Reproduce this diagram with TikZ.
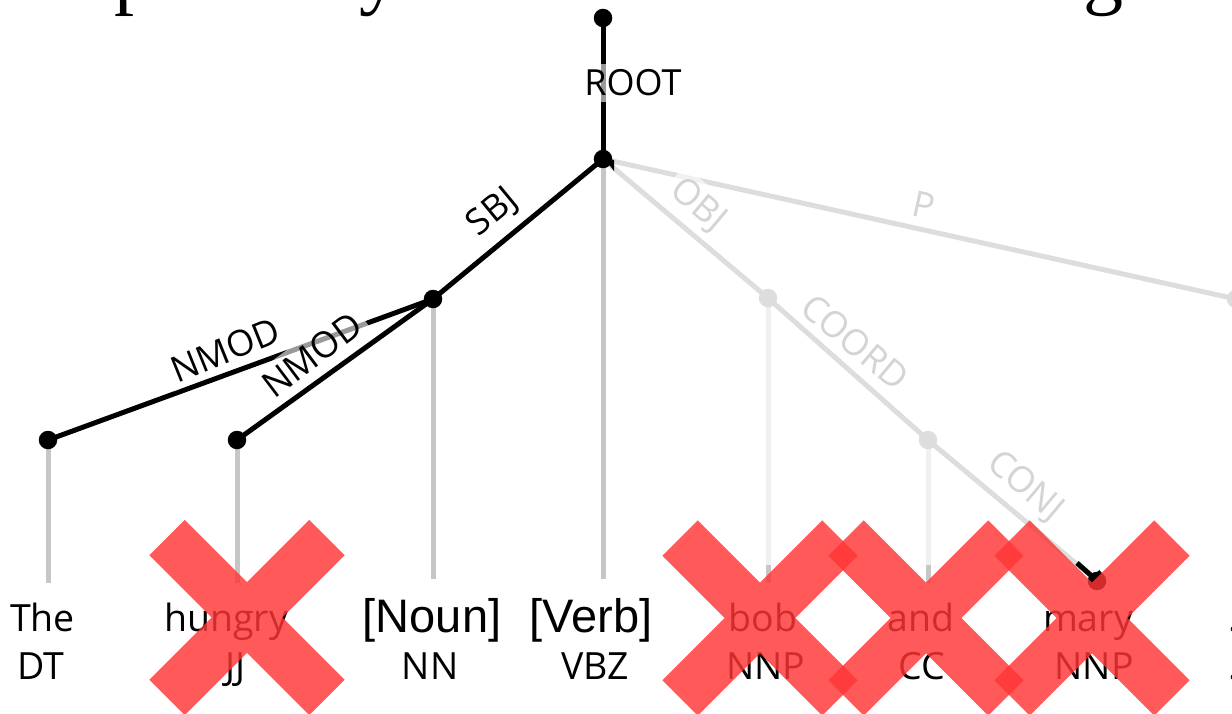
\documentclass[tikz,border=0pt]{standalone}
\usepackage{fontspec}
\newfontfamily\wordfont{Open Sans}
\newfontfamily\brfont{Liberation Sans}
\newfontfamily\bigserif{Liberation Serif}
\definecolor{vgray}{RGB}{198,198,198}
\definecolor{faint}{RGB}{240,240,240}
\definecolor{ledge}{RGB}{221,221,221}
\definecolor{llabel}{RGB}{212,212,212}
\definecolor{xred}{RGB}{255,53,53}
\tikzset{
 dot/.style={circle, fill=black, minimum size=18.5pt, inner sep=0pt},
 ldot/.style={dot, fill=ledge},
 bedge/.style={line width=5pt, black},
 lightedge/.style={line width=5pt, ledge},
 vline/.style={line width=5pt, vgray},
 fline/.style={line width=5pt, faint},
 lab/.style={font=\wordfont\fontsize{36}{36}\selectfont, fill=white, fill opacity=0.6, text opacity=1, inner sep=6pt},
 llab/.style={lab, text=llabel},
 word/.style={font=\wordfont\fontsize{37.5}{37.5}\selectfont, anchor=base, inner sep=0pt},
 bword/.style={font=\brfont\fontsize{47}{47}\selectfont, anchor=base, inner sep=0pt},
 topletter/.style={font=\bigserif\fontsize{80}{80}\selectfont, anchor=base west, inner sep=0pt},
 xcross/.pic={\fill[xred, fill opacity=0.82] (113,-25) -- (113,25) -- (25,25) -- (25,113) -- (-25,113) -- (-25,25) -- (-113,25) -- (-113,-25) -- (-25,-25) -- (-25,-113) -- (25,-113) -- (25,-25) -- cycle;}
}
\begin{document}
\begin{tikzpicture}[x=1pt,y=-1pt]
\useasboundingbox (0,0) rectangle (1232,714);
\fill[white] (0,0) rectangle (1232,714);
% partial title letters
\node[topletter] (tp) at (114,0) {p};
\node[topletter] (ty) at (359,0) {y};
\node[topletter] (tg) at (1083,0) {g};
% positions
\coordinate (cRoot) at (603,18);
\coordinate (cVerb) at (603,159);
\coordinate (cNoun) at (433,299);
\coordinate (cThe) at (48,440);
\coordinate (cHun) at (237,440);
\coordinate (cBob) at (768,298);
\coordinate (cAnd) at (928,440);
\coordinate (cMary) at (1097,581);
\coordinate (cPer) at (1236,299);
\coordinate (bThe) at (48,583);
\coordinate (bHun) at (237,583);
\coordinate (bNoun) at (433,579);
\coordinate (bVerb) at (603,579);
\coordinate (bBobF) at (768,565);
\coordinate (bBob) at (768,583);
\coordinate (bAndF) at (928,565);
\coordinate (bAnd) at (928,583);
% vertical projection lines
\draw[vline] (cThe) -- (bThe);
\draw[vline] (cHun) -- (bHun);
\draw[vline] (cNoun) -- (bNoun);
\draw[vline] (cVerb) -- (bVerb);
\draw[fline] (cBob) -- (bBobF);
\draw[vline] (bBobF) -- (bBob);
\draw[fline] (cAnd) -- (bAndF);
\draw[vline] (bAndF) -- (bAnd);
% light edges
\draw[lightedge] (cVerb) -- (cBob);
\draw[lightedge] (cVerb) -- (cPer);
\draw[lightedge] (cBob) -- (cAnd);
\draw[lightedge] (cAnd) -- (cMary);
% black edges
\draw[bedge] (cRoot) -- (cVerb);
\draw[bedge] (cVerb) -- (cNoun);
\draw[bedge] (cNoun) -- (cThe);
\draw[bedge] (cNoun) -- (cHun);
% small black stubs
\coordinate (mA) at (1077,563);
\coordinate (mB) at (1094,578);
\coordinate (mC) at (1101,572);
\draw[bedge, line join=miter] (mA) -- (mB) -- (mC);
\fill[black] (604,158) -- (614,160) -- (614,171) -- cycle;
% labels
\node[lab] (lRoot) at (633,83) {ROOT};
\node[lab, rotate=39.5] (lSbj) at (493,213) {SBJ};
\node[lab, rotate=22] (lNmod1) at (225,350) {NMOD};
\node[lab, rotate=37] (lNmod2) at (312,355) {NMOD};
\node[llab, rotate=-40] (lObj) at (698,206) {OBJ};
\node[llab, rotate=-12.5] (lP) at (924,205) {P};
\node[llab, rotate=-40] (lCoord) at (855,342) {COORD};
\node[llab, rotate=-40] (lConj) at (1025,487) {CONJ};
% dots
\node[dot] (dRoot) at (cRoot) {};
\node[dot] (dVerb) at (cVerb) {};
\node[dot] (dNoun) at (cNoun) {};
\node[dot] (dThe) at (cThe) {};
\node[dot] (dHun) at (cHun) {};
\node[ldot] (dBob) at (cBob) {};
\node[ldot] (dAnd) at (cAnd) {};
\node[dot] (dMary) at (cMary) {};
\node[ldot] (dPer) at (cPer) {};
% words
\node[word] (wThe) at (42.5,631) {The};
\node[word] (tThe) at (41,679) {DT};
\node[word] (wHun) at (226,631) {hungry};
\node[word] (tHun) at (236,679) {JJ};
\node[bword] (wNoun) at (432,632) {[Noun]};
\node[word] (tNoun) at (430,679) {NN};
\node[bword] (wVerb) at (591,632) {[Verb]};
\node[word] (tVerb) at (595,679) {VBZ};
\node[word] (wBob) at (763,631) {bob};
\node[word] (tBob) at (766,679) {NNP};
\node[word] (wAnd) at (921,631) {and};
\node[word] (tAnd) at (922,679) {CC};
\node[word] (wMary) at (1088,631) {mary};
\node[word] (tMary) at (1094,679) {NNP};
\node[word] (wPer) at (1233,631) {.};
\node[word] (tPer) at (1233,679) {.};
% red crosses
\pic[rotate=45] (xHun) at (247,617.5) {xcross};
\pic[rotate=45] (xBob) at (760,618) {xcross};
\pic[rotate=45] (xAnd) at (926,618) {xcross};
\pic[rotate=45] (xMary) at (1092,618) {xcross};
\end{tikzpicture}
\end{document}
